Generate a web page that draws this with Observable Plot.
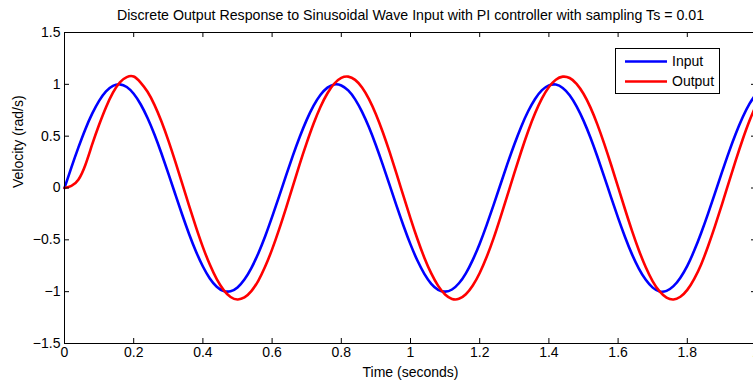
<!DOCTYPE html>
<html>
<head>
<meta charset="utf-8">
<script src="https://cdn.jsdelivr.net/npm/d3@7"></script>
<script src="https://cdn.jsdelivr.net/npm/@observablehq/plot@0.6"></script>
<style>
html, body { margin: 0; padding: 0; background: #fff; overflow: hidden; width: 753px; height: 382px; }
#chart { position: relative; width: 753px; height: 382px; overflow: hidden; }
#chart svg.plot { position: absolute; left: 0; top: 0; max-width: none !important; }
#legend { position: absolute; left: 615px; top: 48px; }
</style>
</head>
<body>
<div id="chart"></div>
<script>
const titleText = "Discrete Output Response to Sinusoidal Wave Input with PI controller with sampling Ts = 0.01";
const xLabel = "Time (seconds)";
const yLabel = "Velocity (rad/s)";
const seriesNames = ["Input", "Output"];
const seriesColors = ["#0000ff", "#ff0000"];
const xTicks = [0, 0.2, 0.4, 0.6, 0.8, 1, 1.2, 1.4, 1.6, 1.8, 2];
const yTicks = [-1.5, -1, -0.5, 0, 0.5, 1, 1.5];
const dt = 0.02; // sampling of the values

const inputValues = [
  0, 0.199, 0.389, 0.565, 0.717, 0.841, 0.932, 0.985, 1.000, 0.974,
  0.909, 0.808, 0.675, 0.516, 0.335, 0.141, -0.058, -0.256, -0.443, -0.612,
  -0.757, -0.872, -0.952, -0.994, -0.996, -0.959, -0.883, -0.773, -0.631, -0.465,
  -0.279, -0.083, 0.117, 0.312, 0.494, 0.657, 0.794, 0.899, 0.968, 0.999,
  0.989, 0.941, 0.855, 0.734, 0.585, 0.412, 0.223, 0.025, -0.175, -0.366,
  -0.544, -0.700, -0.828, -0.924, -0.982, -1.000, -0.979, -0.919, -0.823, -0.693,
  -0.537, -0.358, -0.165, 0.034, 0.232, 0.420, 0.592, 0.740, 0.859, 0.944,
  0.990, 0.998, 0.965, 0.895, 0.787, 0.650, 0.487, 0.304, 0.108, -0.092,
  -0.288, -0.472, -0.638, -0.777, -0.886, -0.961, -0.998, -0.992, -0.947, -0.865,
  -0.751, -0.604, -0.434, -0.247, -0.049, 0.150, 0.344, 0.523, 0.682, 0.814,
  0.913
];

const outputValues = [
  0, 0.02, 0.08, 0.22, 0.42, 0.61, 0.78, 0.92, 1.02, 1.07,
  1.075, 1.017, 0.928, 0.802, 0.643, 0.459, 0.257, 0.045, -0.170, -0.377,
  -0.570, -0.739, -0.880, -0.985, -1.051, -1.075, -1.056, -0.995, -0.895, -0.758,
  -0.592, -0.402, -0.196, 0.018, 0.233, 0.435, 0.622, 0.784, 0.914, 1.008,
  1.062, 1.074, 1.043, 0.970, 0.858, 0.712, 0.538, 0.343, 0.134, -0.081,
  -0.292, -0.492, -0.672, -0.824, -0.944, -1.027, -1.070, -1.069, -1.025, -0.941,
  -0.820, -0.666, -0.486, -0.283, -0.071, 0.143, 0.352, 0.547, 0.720, 0.864,
  0.974, 1.045, 1.074, 1.061, 1.005, 0.909, 0.778, 0.614, 0.426, 0.222,
  0.009, -0.205, -0.411, -0.600, -0.765, -0.900, -0.998, -1.057, -1.075, -1.049,
  -0.983, -0.876, -0.737, -0.562, -0.368, -0.160, 0.054, 0.266, 0.468, 0.651,
  0.808
];

const data = [];
inputValues.forEach((v, i) => data.push({t: i * dt, v, s: seriesNames[0]}));
outputValues.forEach((v, i) => data.push({t: i * dt, v, s: seriesNames[1]}));

const W = 800, H = 382;
const mL = 64, mR = 44, mT = 32, mB = 39;
const innerW = W - mL - mR, innerH = H - mT - mB;
const tick = 5;
const font = "'Liberation Sans', Arial, Helvetica, sans-serif";
const fmt = d => d < 0 ? "\u2212" + String(-d) : String(d);

const chart = Plot.plot({
  width: W,
  height: H,
  marginLeft: mL,
  marginRight: mR,
  marginTop: mT,
  marginBottom: mB,
  style: {fontFamily: font, fontSize: "14px", background: "#fff", color: "#000", maxWidth: "none"},
  x: {domain: [0, 2], axis: null},
  y: {domain: [-1.5, 1.5], axis: null},
  color: {domain: seriesNames, range: seriesColors},
  marks: [
    Plot.line(data, {x: "t", y: "v", z: "s", stroke: "s", strokeWidth: 2.6, curve: "natural"}),
    Plot.frame({stroke: "#000", strokeWidth: 1}),
    Plot.tickX(xTicks, {x: d => d, insetTop: innerH - tick, stroke: "#000"}),
    Plot.tickX(xTicks, {x: d => d, insetBottom: innerH - tick, stroke: "#000"}),
    Plot.tickY(yTicks, {y: d => d, insetRight: innerW - tick, stroke: "#000"}),
    Plot.tickY(yTicks, {y: d => d, insetLeft: innerW - tick, stroke: "#000"}),
    Plot.axisX({ticks: xTicks, tickSize: 0, tickPadding: 4, tickFormat: fmt, label: null, fontSize: 14, fill: "#000"}),
    Plot.axisY({ticks: yTicks, tickSize: 0, tickPadding: 4, tickFormat: fmt, label: null, fontSize: 14, fill: "#000"}),
    Plot.text([titleText], {frameAnchor: "top", dy: -17, lineAnchor: "middle", fontSize: 14.2, fill: "#000"}),
    Plot.text([xLabel], {frameAnchor: "bottom", dy: 29, lineAnchor: "middle", fontSize: 14, fill: "#000"}),
    Plot.text([yLabel], {frameAnchor: "left", dx: -46, rotate: -90, lineAnchor: "middle", fontSize: 14, fill: "#000"})
  ]
});
document.getElementById("chart").appendChild(chart);

// legend box
const ns = "http://www.w3.org/2000/svg";
const lg = document.createElementNS(ns, "svg");
lg.setAttribute("id", "legend");
lg.setAttribute("width", 106);
lg.setAttribute("height", 47);
let html = `<rect x="0.5" y="0.5" width="104" height="45" fill="#fff" stroke="#000" stroke-width="1"/>`;
seriesNames.forEach((name, i) => {
  const yy = 13.5 + i * 20;
  html += `<line x1="10" x2="52" y1="${yy}" y2="${yy}" stroke="${seriesColors[i]}" stroke-width="2.6"/>`;
  html += `<text x="57" y="${yy}" dy="0.35em" font-family="${font.replace(/"/g, "")}" font-size="14" fill="#000">${name}</text>`;
});
lg.innerHTML = html;
document.getElementById("chart").appendChild(lg);
</script>
</body>
</html>
